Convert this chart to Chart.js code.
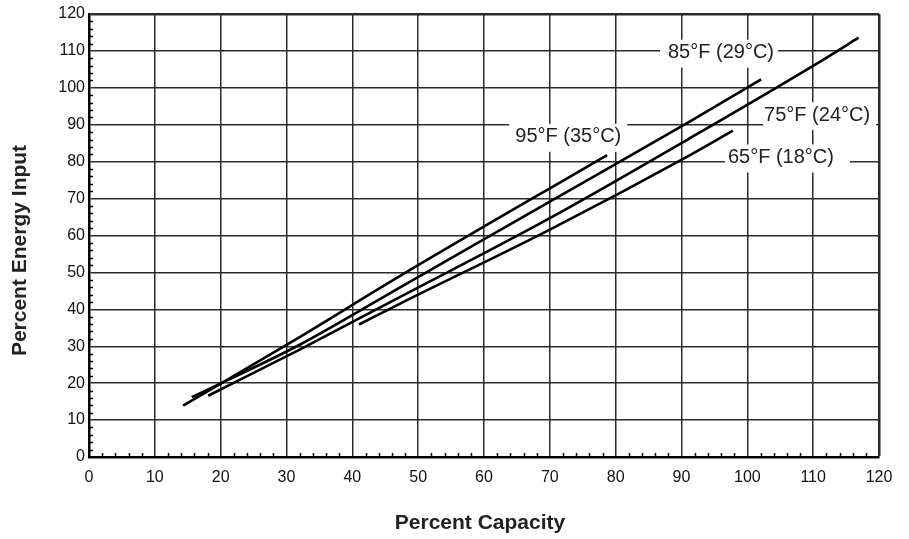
<!DOCTYPE html>
<html>
<head>
<meta charset="utf-8">
<script src="https://cdn.jsdelivr.net/npm/chart.js@4.4.0/dist/chart.umd.min.js"></script>
<style>
  html, body { margin: 0; padding: 0; background: #fff; }
  #wrap { width: 909px; height: 539px; }
</style>
</head>
<body>
<div id="wrap"><canvas id="chart" width="909" height="539"></canvas></div>
<script>
// curve names (condenser water temperature)
const seriesNames = ['95°F (35°C)', '85°F (29°C)', '75°F (24°C)', '65°F (18°C)'];

// values: percent capacity -> percent energy input
const capacity95 = [14.3, 32, 47.2, 78.7];
const energy95   = [13.9, 32.5, 49.0, 81.8];

const capacity85 = [15.6, 32, 47.2, 70, 91.3, 102.1];
const energy85   = [16.2, 30.4, 45.9, 69.2, 90.9, 102.3];

const capacity75 = [18.1, 32, 47.2, 70, 91.3, 111.5, 116.9];
const energy75   = [16.6, 29.1, 43.3, 64.7, 86.4, 107.6, 113.6];

const capacity65 = [41.0, 47.2, 70, 91.3, 97.8];
const energy65   = [35.9, 41.5, 61.6, 81.8, 88.4];

const xTicks = [0, 10, 20, 30, 40, 50, 60, 70, 80, 90, 100, 110, 120];
const yTicks = [0, 10, 20, 30, 40, 50, 60, 70, 80, 90, 100, 110, 120];

const xTitle = 'Percent Capacity';
const yTitle = 'Percent Energy Input';

// where each curve label sits, in chart units
const labelSpots = [
  { text: seriesNames[0], x: 72.8, y: 87.0, padL: 6, padR: 6 },
  { text: seriesNames[1], x: 96.0, y: 109.8, padL: 8, padR: 4 },
  { text: seriesNames[2], x: 110.6, y: 92.9, padL: 1, padR: 6 },
  { text: seriesNames[3], x: 105.1, y: 81.4, padL: 3, padR: 16 }
];

const FONT = '"Liberation Sans", Arial, sans-serif';

function toPoints(xs, ys) {
  return xs.map((x, i) => ({ x: x, y: ys[i] }));
}

function curve(name, xs, ys) {
  return {
    label: name,
    data: toPoints(xs, ys),
    showLine: true,
    borderColor: '#000',
    borderWidth: 2.6,
    pointRadius: 0,
    cubicInterpolationMode: 'monotone',
    fill: false
  };
}

// minor ticks (every 2 units) pointing into the plot, then label boxes
const decorPlugin = {
  id: 'decor',
  beforeDatasetsDraw(chart) {
    const ctx = chart.ctx;
    const xs = chart.scales.x, ys = chart.scales.y;
    const area = chart.chartArea;
    ctx.save();
    ctx.strokeStyle = '#000';
    ctx.lineWidth = 1.5;
    ctx.beginPath();
    for (let v = 2; v < 120; v += 2) {
      if (v % 10 === 0) continue;
      const px = Math.round(xs.getPixelForValue(v)) + 0.5;
      ctx.moveTo(px, area.bottom);
      ctx.lineTo(px, area.bottom - 4);
      const py = Math.round(ys.getPixelForValue(v)) + 0.5;
      ctx.moveTo(area.left, py);
      ctx.lineTo(area.left + 4, py);
    }
    ctx.stroke();

    ctx.font = '20px ' + FONT;
    ctx.textAlign = 'center';
    ctx.textBaseline = 'middle';
    labelSpots.forEach(l => {
      const cx = xs.getPixelForValue(l.x);
      const cy = ys.getPixelForValue(l.y);
      const w = ctx.measureText(l.text).width;
      ctx.fillStyle = '#fff';
      ctx.fillRect(cx - w / 2 - l.padL, cy - 12, w + l.padL + l.padR, 28);
      ctx.fillStyle = '#222';
      ctx.fillText(l.text, cx, cy + 1);
    });
    ctx.restore();
  },
  afterDraw(chart) {
    // axis titles
    const ctx = chart.ctx;
    const area = chart.chartArea;
    ctx.save();
    ctx.fillStyle = '#222';
    ctx.font = 'bold 21px ' + FONT;
    ctx.textAlign = 'center';
    ctx.textBaseline = 'middle';
    ctx.fillText(xTitle, (area.left + area.right) / 2 - 4, 523);
    ctx.translate(20, (area.top + area.bottom) / 2 + 15);
    ctx.rotate(-Math.PI / 2);
    ctx.fillText(yTitle, 0, 0);
    ctx.restore();
  }
};

function gridWidth(c) {
  return c.tick && c.tick.value === 120 ? 2.5 : 1.5;
}

new Chart(document.getElementById('chart').getContext('2d'), {
  type: 'scatter',
  data: {
    datasets: [
      curve(seriesNames[0], capacity95, energy95),
      curve(seriesNames[1], capacity85, energy85),
      curve(seriesNames[2], capacity75, energy75),
      curve(seriesNames[3], capacity65, energy65)
    ]
  },
  options: {
    responsive: false,
    animation: false,
    layout: { padding: { top: 14, right: 30, left: 0, bottom: 0 } },
    plugins: {
      legend: { display: false },
      tooltip: { enabled: false }
    },
    scales: {
      x: {
        type: 'linear',
        position: 'bottom',
        min: 0,
        max: 120,
        afterBuildTicks: s => { s.ticks = xTicks.map(v => ({ value: v })); },
        afterFit: s => { s.height = 82; },
        ticks: {
          color: '#111',
          font: { family: FONT, size: 16 },
          padding: 11,
          maxRotation: 0
        },
        grid: { color: '#2b2b2b', lineWidth: gridWidth, drawTicks: false },
        border: { color: '#000', width: 2.5 }
      },
      y: {
        type: 'linear',
        min: 0,
        max: 120,
        afterBuildTicks: s => { s.ticks = yTicks.map(v => ({ value: v })); },
        afterFit: s => { s.width = 89; },
        ticks: {
          color: '#111',
          font: { family: FONT, size: 16 },
          padding: 4
        },
        grid: { color: '#2b2b2b', lineWidth: gridWidth, drawTicks: false },
        border: { color: '#000', width: 2.5 }
      }
    }
  },
  plugins: [decorPlugin]
});
</script>
</body>
</html>
